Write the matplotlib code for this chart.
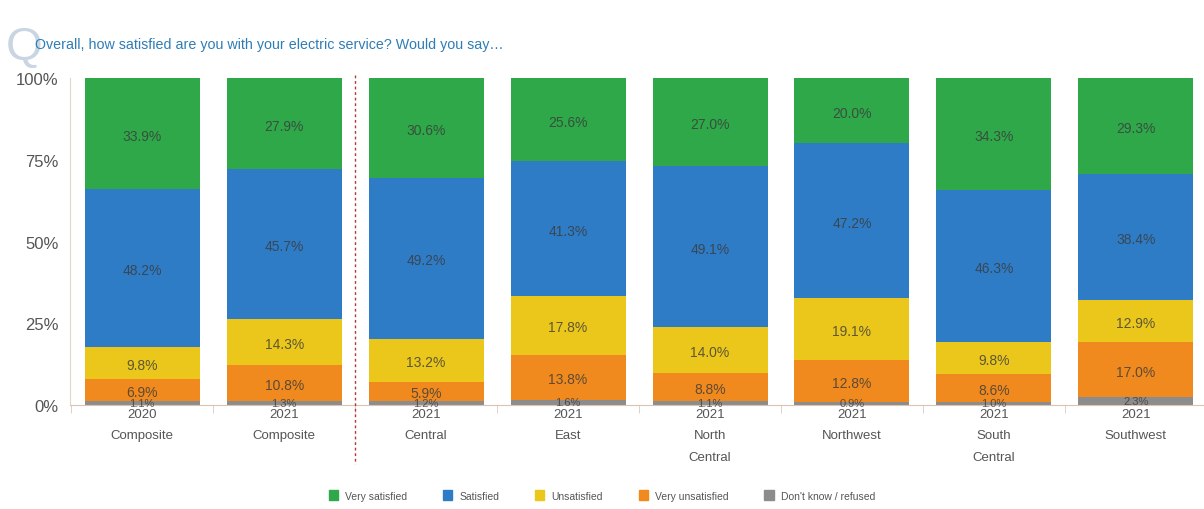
import matplotlib
matplotlib.use('Agg')
from matplotlib import pyplot as plt
from matplotlib.patches import Patch
import numpy as np

plt.rcParams['font.family'] = ['Liberation Sans', 'DejaVu Sans']

categories = ['2020\nComposite', '2021\nComposite', '2021\nCentral', '2021\nEast',
              '2021\nNorth\nCentral', '2021\nNorthwest', '2021\nSouth\nCentral', '2021\nSouthwest']
dont_know = [1.1, 1.3, 1.2, 1.6, 1.1, 0.9, 1.0, 2.3]
very_unsat = [6.9, 10.8, 5.9, 13.8, 8.8, 12.8, 8.6, 17.0]
unsat = [9.8, 14.3, 13.2, 17.8, 14.0, 19.1, 9.8, 12.9]
satisfied = [48.2, 45.7, 49.2, 41.3, 49.1, 47.2, 46.3, 38.4]
very_sat = [33.9, 27.9, 30.6, 25.6, 27.0, 20.0, 34.3, 29.3]

series = [
    ("Don't know / refused", dont_know, '#8c8c8c'),
    ('Very unsatisfied', very_unsat, '#f08a1e'),
    ('Unsatisfied', unsat, '#ebc71c'),
    ('Satisfied', satisfied, '#2f7cc6'),
    ('Very satisfied', very_sat, '#2fa84a'),
]

fig = plt.figure(figsize=(12.04, 5.10), dpi=100)
ax = fig.add_axes([0.058, 0.204, 0.942, 0.641])

x = np.arange(len(categories))
bottom = np.zeros(len(categories))
for name, vals, col in series:
    vals = np.array(vals)
    ax.bar(x, vals, 0.81, bottom=bottom, color=col, label=name, zorder=2)
    small = name.startswith('Don')
    for xi, b, v in zip(x, bottom, vals):
        ax.text(xi, b + v / 2 - (0 if small else 0.6), f'{v:.1f}%', ha='center', va='center',
                fontsize=8 if small else 10, color='#3a3a3a', alpha=0.8, zorder=3)
    bottom += vals

ax.set_xlim(-0.51, 7.48)
ax.set_ylim(0, 100)
ax.set_yticks([0, 25, 50, 75, 100])
ax.set_yticklabels(['0%', '25%', '50%', '75%', '100%'], fontsize=12, color='#555555')
ax.set_xticks(x)
ax.set_xticklabels(categories, fontsize=9.5, color='#555555', linespacing=2.05)
ax.tick_params(axis='x', length=0, pad=2)
ax.tick_params(axis='y', length=0, pad=8)
ax.set_xticks(np.arange(-0.5, 7.5, 1), minor=True)
ax.tick_params(axis='x', which='minor', length=6, color='#e0c8b8', direction='out')

for s in ['top', 'right']:
    ax.spines[s].set_visible(False)
ax.spines['left'].set_color('#e6d6c8')
ax.spines['bottom'].set_color('#d8c4b4')

ax.plot([1.5, 1.5], [101, -18], ls=(0, (2, 2)), color='#b03a3a', lw=1,
        clip_on=False, zorder=4)

fig.text(0.005, 0.905, 'Q', fontsize=34, color='#c9d5e2', va='center', ha='left')
fig.text(0.029, 0.912, 'Overall, how satisfied are you with your electric service? Would you say\u2026',
         fontsize=10.3, color='#2f7db5', va='center', ha='left')

handles = [Patch(color=c, label=n) for n, _, c in series[::-1]]
fig.legend(handles=handles, loc='center', bbox_to_anchor=(0.5, 0.026), ncol=5,
           frameon=False, fontsize=7.5, handlelength=0.9, handleheight=1.1,
           columnspacing=3.4, handletextpad=0.7, labelcolor='#555555')

fig.savefig('out.png', dpi=100)
